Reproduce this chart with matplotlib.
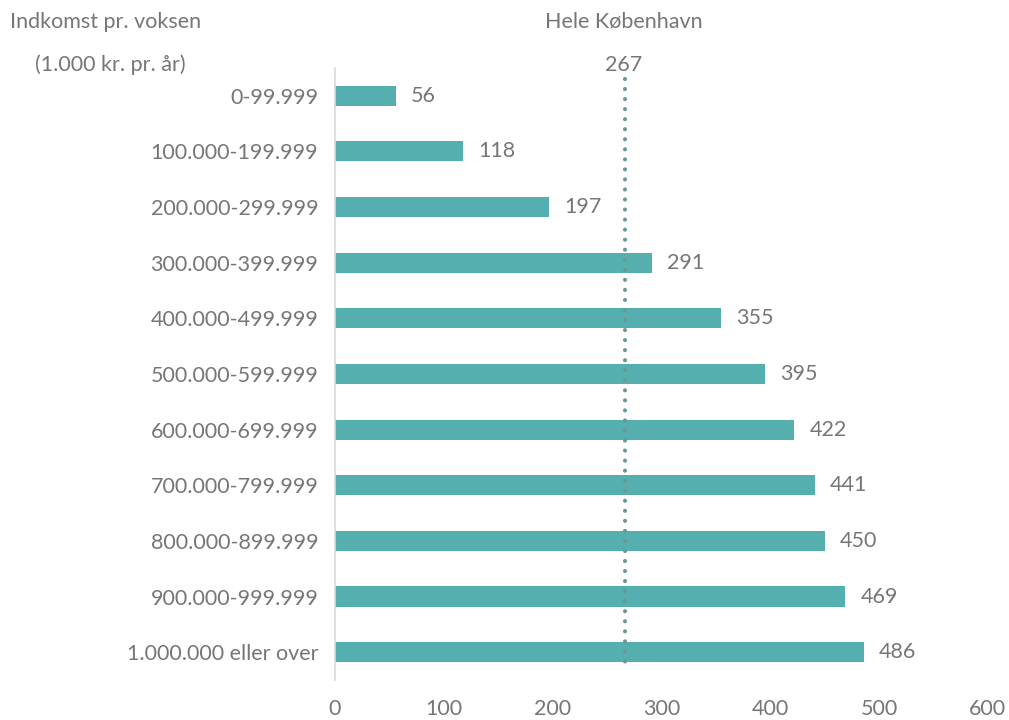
import numpy as np
import matplotlib.pyplot as plt

# Data
kategorier = ['0-99.999', '100.000-199.999', '200.000-299.999', '300.000-399.999',
              '400.000-499.999', '500.000-599.999', '600.000-699.999', '700.000-799.999',
              '800.000-899.999', '900.000-999.999', '1.000.000 eller over']
vaerdier = [56, 118, 197, 291, 355, 395, 422, 441, 450, 469, 486]
hele_kbh = 267

plt.rcParams['font.family'] = ['Lato', 'DejaVu Sans']
tekst = '#767676'
bar_farve = '#55afae'
linje_farve = '#6a9898'
fs = 15.5

fig = plt.figure(figsize=(10.09, 7.2), dpi=100)
ax = fig.add_axes([0.332, 0.0556, 0.647, 0.85])

y = np.arange(len(kategorier))
ax.barh(y, vaerdier, height=0.36, color=bar_farve, zorder=2)
for yi, v in zip(y, vaerdier):
    ax.text(v + 14, yi, str(v), va='center', ha='left', fontsize=fs, color=tekst)

ax.plot([hele_kbh, hele_kbh], [-0.3, 10.3], color=linje_farve, linestyle=(0, (0.01, 2.4)),
        linewidth=3, dash_capstyle='round', zorder=3)

ax.set_ylim(10.5, -0.5)
ax.set_xlim(0, 600)
ax.set_yticks(y)
ax.set_yticklabels(kategorier, fontsize=fs, color=tekst)
ax.set_xticks([0, 100, 200, 300, 400, 500, 600])
ax.tick_params(axis='x', labelsize=fs, colors=tekst, length=0, pad=14)
ax.tick_params(axis='y', length=0, pad=12)
for s in ['top', 'right', 'bottom']:
    ax.spines[s].set_visible(False)
ax.spines['left'].set_color('#d9d9d9')
ax.spines['left'].set_linewidth(1.2)

fig.text(10 / 1009, 1 - 22 / 720, 'Indkomst pr. voksen', fontsize=fs, color=tekst, va='center', ha='left')
fig.text(35 / 1009, 1 - 65 / 720, '(1.000 kr. pr. år)', fontsize=fs, color=tekst, va='center', ha='left')
fig.text(624 / 1009, 1 - 22 / 720, 'Hele København', fontsize=fs, color=tekst, va='center', ha='center')
fig.text(624 / 1009, 1 - 65 / 720, str(hele_kbh), fontsize=fs, color=tekst, va='center', ha='center')

fig.savefig('out.png', dpi=100)
